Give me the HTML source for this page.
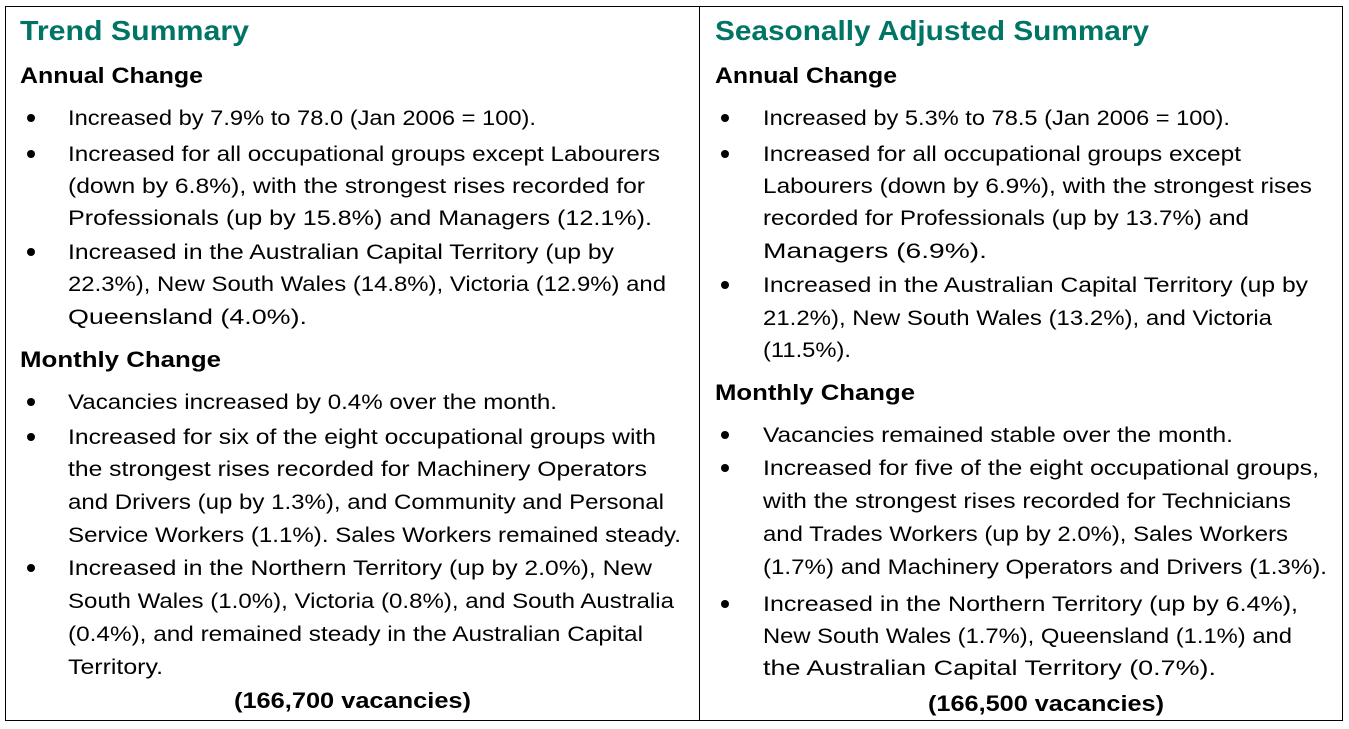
<!DOCTYPE html>
<html><head><meta charset="utf-8"><style>
html,body{margin:0;padding:0;background:#fff;}
svg{display:block;}
text{font-family:"Liberation Sans",sans-serif;fill:#000;}
.t{font-size:21px;}
.h{font-size:22px;font-weight:bold;}
.g{font-size:28px;font-weight:bold;fill:#007566;}
</style></head><body>
<svg width="1349" height="729" viewBox="0 0 1349 729" xmlns="http://www.w3.org/2000/svg">
<rect x="5.5" y="6.5" width="1337" height="714" fill="none" stroke="#000" stroke-width="1"/>
<line x1="699.5" y1="6" x2="699.5" y2="721" stroke="#000" stroke-width="1"/>
<g fill="#000">
<circle cx="31" cy="118" r="4"/><circle cx="31" cy="154" r="4"/><circle cx="31" cy="252" r="4"/>
<circle cx="31" cy="402" r="4"/><circle cx="31" cy="437" r="4"/><circle cx="31" cy="568" r="4"/>
<circle cx="725" cy="118" r="4"/><circle cx="725" cy="154" r="4"/><circle cx="725" cy="285" r="4"/>
<circle cx="725" cy="435" r="4"/><circle cx="725" cy="468" r="4"/><circle cx="725" cy="604" r="4"/>
</g>
<text class="g" x="20" y="40" textLength="229" lengthAdjust="spacingAndGlyphs">Trend Summary</text>
<text class="h" x="20" y="83" textLength="183" lengthAdjust="spacingAndGlyphs">Annual Change</text>
<text class="t" x="68" y="125" textLength="468" lengthAdjust="spacingAndGlyphs">Increased by 7.9% to 78.0 (Jan 2006 = 100).</text>
<text class="t" x="68" y="161" textLength="592" lengthAdjust="spacingAndGlyphs">Increased for all occupational groups except Labourers</text>
<text class="t" x="68" y="193" textLength="577" lengthAdjust="spacingAndGlyphs">(down by 6.8%), with the strongest rises recorded for</text>
<text class="t" x="68" y="225" textLength="584" lengthAdjust="spacingAndGlyphs">Professionals (up by 15.8%) and Managers (12.1%).</text>
<text class="t" x="68" y="259" textLength="546" lengthAdjust="spacingAndGlyphs">Increased in the Australian Capital Territory (up by</text>
<text class="t" x="68" y="291" textLength="598" lengthAdjust="spacingAndGlyphs">22.3%), New South Wales (14.8%), Victoria (12.9%) and</text>
<text class="t" x="68" y="324" textLength="239" lengthAdjust="spacingAndGlyphs">Queensland (4.0%).</text>
<text class="h" x="20" y="367" textLength="201" lengthAdjust="spacingAndGlyphs">Monthly Change</text>
<text class="t" x="68" y="409" textLength="489" lengthAdjust="spacingAndGlyphs">Vacancies increased by 0.4% over the month.</text>
<text class="t" x="68" y="444" textLength="588" lengthAdjust="spacingAndGlyphs">Increased for six of the eight occupational groups with</text>
<text class="t" x="68" y="476" textLength="579" lengthAdjust="spacingAndGlyphs">the strongest rises recorded for Machinery Operators</text>
<text class="t" x="68" y="509" textLength="596" lengthAdjust="spacingAndGlyphs">and Drivers (up by 1.3%), and Community and Personal</text>
<text class="t" x="68" y="542" textLength="613" lengthAdjust="spacingAndGlyphs">Service Workers (1.1%). Sales Workers remained steady.</text>
<text class="t" x="68" y="575" textLength="584" lengthAdjust="spacingAndGlyphs">Increased in the Northern Territory (up by 2.0%), New</text>
<text class="t" x="68" y="608" textLength="606" lengthAdjust="spacingAndGlyphs">South Wales (1.0%), Victoria (0.8%), and South Australia</text>
<text class="t" x="68" y="641" textLength="575" lengthAdjust="spacingAndGlyphs">(0.4%), and remained steady in the Australian Capital</text>
<text class="t" x="68" y="674" textLength="95" lengthAdjust="spacingAndGlyphs">Territory.</text>
<text class="h" x="234" y="708" textLength="237" lengthAdjust="spacingAndGlyphs">(166,700 vacancies)</text>

<text class="g" x="715" y="40" textLength="434" lengthAdjust="spacingAndGlyphs">Seasonally Adjusted Summary</text>
<text class="h" x="715" y="83" textLength="182" lengthAdjust="spacingAndGlyphs">Annual Change</text>
<text class="t" x="763" y="125" textLength="467" lengthAdjust="spacingAndGlyphs">Increased by 5.3% to 78.5 (Jan 2006 = 100).</text>
<text class="t" x="763" y="161" textLength="478" lengthAdjust="spacingAndGlyphs">Increased for all occupational groups except</text>
<text class="t" x="763" y="193" textLength="549" lengthAdjust="spacingAndGlyphs">Labourers (down by 6.9%), with the strongest rises</text>
<text class="t" x="763" y="225" textLength="486" lengthAdjust="spacingAndGlyphs">recorded for Professionals (up by 13.7%) and</text>
<text class="t" x="763" y="258" textLength="224" lengthAdjust="spacingAndGlyphs">Managers (6.9%).</text>
<text class="t" x="763" y="292" textLength="545" lengthAdjust="spacingAndGlyphs">Increased in the Australian Capital Territory (up by</text>
<text class="t" x="763" y="325" textLength="509" lengthAdjust="spacingAndGlyphs">21.2%), New South Wales (13.2%), and Victoria</text>
<text class="t" x="763" y="357" textLength="88" lengthAdjust="spacingAndGlyphs">(11.5%).</text>
<text class="h" x="715" y="400" textLength="200" lengthAdjust="spacingAndGlyphs">Monthly Change</text>
<text class="t" x="763" y="442" textLength="470" lengthAdjust="spacingAndGlyphs">Vacancies remained stable over the month.</text>
<text class="t" x="763" y="475" textLength="556" lengthAdjust="spacingAndGlyphs">Increased for five of the eight occupational groups,</text>
<text class="t" x="763" y="508" textLength="528" lengthAdjust="spacingAndGlyphs">with the strongest rises recorded for Technicians</text>
<text class="t" x="763" y="541" textLength="525" lengthAdjust="spacingAndGlyphs">and Trades Workers (up by 2.0%), Sales Workers</text>
<text class="t" x="763" y="574" textLength="564" lengthAdjust="spacingAndGlyphs">(1.7%) and Machinery Operators and Drivers (1.3%).</text>
<text class="t" x="763" y="611" textLength="535" lengthAdjust="spacingAndGlyphs">Increased in the Northern Territory (up by 6.4%),</text>
<text class="t" x="763" y="643" textLength="529" lengthAdjust="spacingAndGlyphs">New South Wales (1.7%), Queensland (1.1%) and</text>
<text class="t" x="763" y="675" textLength="453" lengthAdjust="spacingAndGlyphs">the Australian Capital Territory (0.7%).</text>
<text class="h" x="928" y="711" textLength="236" lengthAdjust="spacingAndGlyphs">(166,500 vacancies)</text>
</svg>
</body></html>
